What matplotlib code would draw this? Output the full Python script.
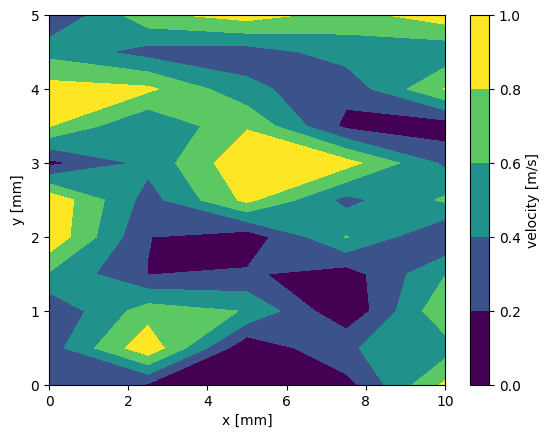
import numpy as np
import matplotlib
matplotlib.use("Agg")
import matplotlib.pyplot as plt

# grid positions [mm]
x = [0.0, 2.5, 5.0, 7.5, 10.0]
y = [0.0, 0.5, 1.0, 1.5, 2.0, 2.5, 3.0, 3.5, 4.0, 4.5, 5.0]

# velocity [m/s], one list per y row (bottom to top)
v_y00 = [0.37, 0.175, 0.10, 0.12, 0.84]
v_y05 = [0.30, 0.95, 0.03, 0.385, 0.50]
v_y10 = [0.23, 0.70, 0.59, 0.02, 0.77]
v_y15 = [0.58, 0.196, 0.225, 0.10, 0.59]
v_y20 = [0.96, 0.205, 0.08, 0.61, 0.19]
v_y25 = [0.96, 0.316, 0.85, 0.337, 0.63]
v_y30 = [0.14, 0.457, 0.97, 0.88, 0.36]
v_y35 = [0.81, 0.395, 0.78, 0.15, 0.08]
v_y40 = [0.88, 0.84, 0.45, 0.26, 0.81]
v_y45 = [0.535, 0.32, 0.30, 0.49, 0.45]
v_y50 = [0.18, 0.75, 0.89, 0.717, 0.915]

levels = [0.0, 0.2, 0.4, 0.6, 0.8, 1.0]

V = np.array([v_y00, v_y05, v_y10, v_y15, v_y20, v_y25,
              v_y30, v_y35, v_y40, v_y45, v_y50])
X, Y = np.meshgrid(x, y)

fig = plt.figure(figsize=(5.49, 4.38), dpi=100)
ax = fig.add_axes([0.0893, 0.121, 0.7213, 0.8447])
cax = fig.add_axes([0.856, 0.121, 0.0346, 0.8447])

# first band gets the bottom of viridis, last band the top
cs = ax.contourf(X, Y, V, levels=levels, cmap='viridis', vmin=0.1, vmax=0.9)
ax.set_xlabel('x [mm]')
ax.set_ylabel('y [mm]')

cb = fig.colorbar(cs, cax=cax)
cb.set_label('velocity [m/s]')

fig.savefig('out.png', dpi=100)
